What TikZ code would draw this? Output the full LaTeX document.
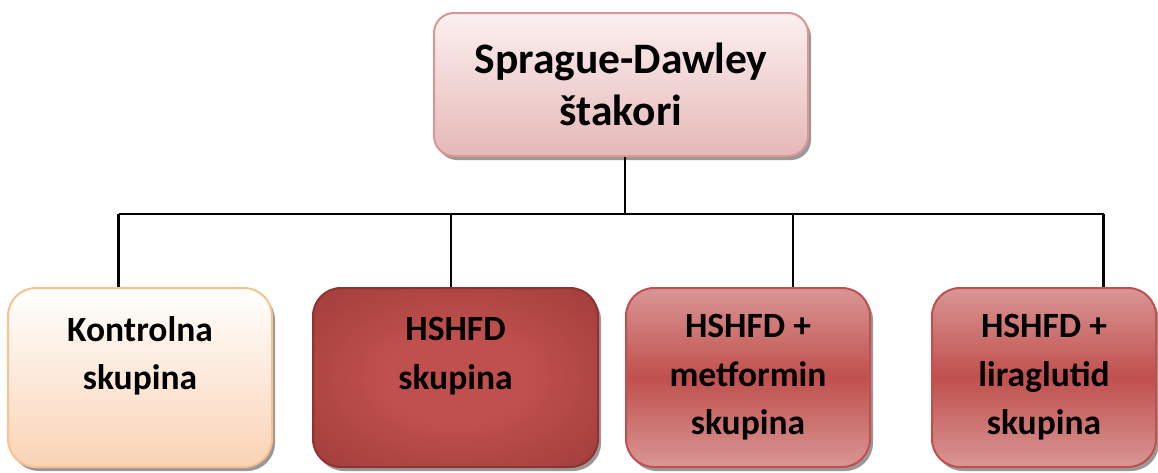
\documentclass[tikz,border=0pt]{standalone}
\usepackage{fontspec}
\setmainfont{Carlito}
\usetikzlibrary{shadows}
\definecolor{topTop}{HTML}{FCF0F0}
\definecolor{topBot}{HTML}{E5B8B7}
\definecolor{topLine}{HTML}{D99694}
\definecolor{ctrlTop}{HTML}{FFFFFF}
\definecolor{ctrlBot}{HTML}{FAD3B4}
\definecolor{ctrlLine}{HTML}{FAC090}
\definecolor{hsIn}{HTML}{C0504D}
\definecolor{hsOut}{HTML}{943634}
\definecolor{hsLine}{HTML}{8E3330}
\definecolor{trEdge}{HTML}{D99694}
\definecolor{trMid}{HTML}{C0504D}
\definecolor{trLine}{HTML}{C0504D}
\pgfdeclareradialshading{hshfdglow}{\pgfpoint{0bp}{0bp}}{color(0bp)=(hsIn); color(12bp)=(hsIn); color(45bp)=(hsOut); color(75bp)=(hsOut)}
\begin{document}
\begin{tikzpicture}[x=1pt,y=-1pt,
  box/.style={rectangle, inner sep=0pt, align=center, line width=2pt,
    drop shadow={shadow xshift=3pt, shadow yshift=-4pt, opacity=0.4, fill=black}},
  topbox/.style={box, rounded corners=20pt, draw=topLine, top color=topTop, bottom color=topBot,
    font=\fontsize{43.5}{52}\selectfont\bfseries},
  lowbox/.style={box, rounded corners=28pt, minimum height=179pt,
    font=\fontsize{35.5}{48.5}\selectfont\bfseries},
  ctrlbox/.style={lowbox, draw=ctrlLine, top color=ctrlTop, bottom color=ctrlBot},
  hsbox/.style={lowbox, draw=hsLine, shading=hshfdglow},
  trbox/.style={lowbox, draw=trLine, top color=trEdge, bottom color=trEdge, middle color=trMid},
  conn/.style={line width=2.2pt, black}]
\useasboundingbox (0,0) rectangle (1158,472);

\node[topbox, minimum width=374pt, minimum height=143pt] (top) at (621,84.5) {Sprague-Dawley\\štakori};

\node[ctrlbox, minimum width=264pt] (b1) at (140,377.5) {Kontrolna\\skupina\\~};
\node[hsbox, minimum width=285pt] (b2) at (455.5,377.5) {HSHFD\\skupina\\~};
\node[trbox, minimum width=244pt] (b3) at (748,377.5) {HSHFD +\\metformin\\skupina};
\node[trbox, minimum width=224pt] (b4) at (1044,377.5) {HSHFD +\\liraglutid\\skupina};

\coordinate (j) at (625,214);
\coordinate (d1) at (118.5,214);
\coordinate (d2) at (451,214);
\coordinate (d3) at (793,214);
\coordinate (d4) at (1103.5,214);

\draw[conn] (top.south -| j) -- (j);
\draw[conn] (d1) -- (d4);
\draw[conn] (d1) -- (d1 |- b1.north);
\draw[conn] (d2) -- (d2 |- b2.north);
\draw[conn] (d3) -- (d3 |- b3.north);
\draw[conn] (d4) -- (d4 |- b4.north);
\end{tikzpicture}
\end{document}
